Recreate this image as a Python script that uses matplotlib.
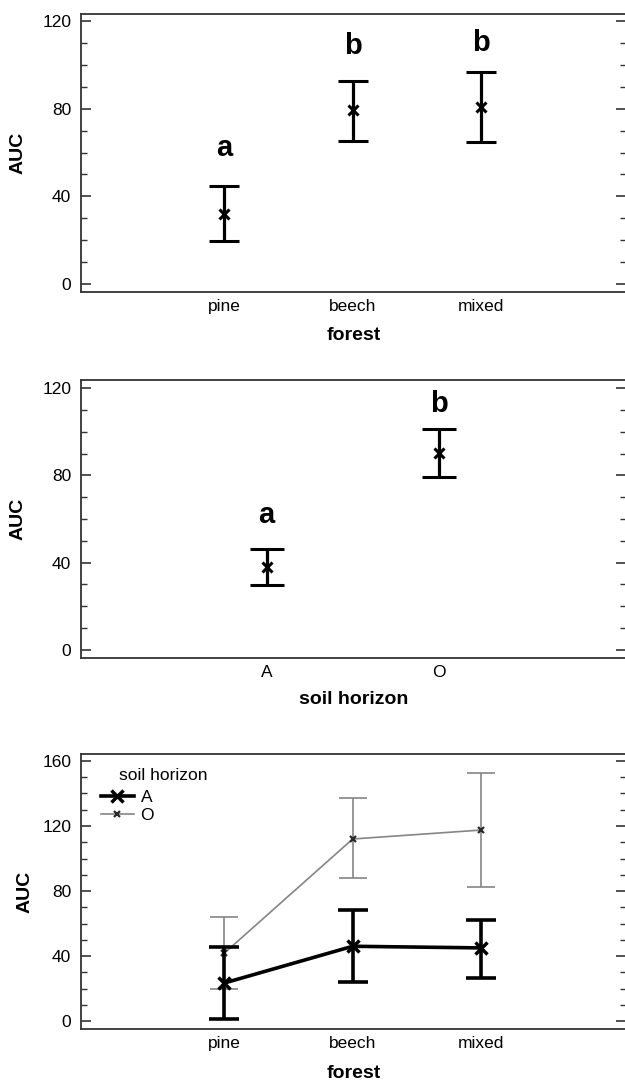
import numpy as np
import matplotlib
matplotlib.use("Agg")
import matplotlib.pyplot as plt
from matplotlib.ticker import MultipleLocator

plt.rcParams['font.family'] = ['Liberation Sans', 'DejaVu Sans']

# panel 1 : AUC by forest type
forest = ['pine', 'beech', 'mixed']
forest_auc = [32, 79.5, 81]
forest_lo = [19.7, 65.3, 64.8]
forest_hi = [44.7, 92.7, 96.8]
forest_letters = ['a', 'b', 'b']
forest_letter_y = [58.4, 105, 106.4]

# panel 2 : AUC by soil horizon
horizon = ['A', 'O']
horizon_auc = [38, 90.2]
horizon_lo = [29.8, 79.3]
horizon_hi = [46.3, 101.2]
horizon_letters = ['a', 'b']
horizon_letter_y = [58.2, 109]

# panel 3 : interaction forest x horizon
a_auc = [23.4, 46, 45]
a_lo = [1.2, 24, 26.5]
a_hi = [45.5, 68.3, 62.2]
o_auc = [41.8, 112, 117.5]
o_lo = [19.7, 88, 82.5]
o_hi = [64, 137, 152.6]

W, H = 625, 1084
SPINE = '#333333'
GREY = '#858585'


def make_axes(fig, top, bottom):
    # positions in pixels -> figure fraction
    ax = fig.add_axes([81 / W, 1 - bottom / H, 545 / W, (bottom - top) / H])
    for s in ['left', 'top', 'bottom', 'right']:
        ax.spines[s].set_color(SPINE)
        ax.spines[s].set_linewidth(1.3)
    ax.tick_params(axis='y', which='both', direction='in', left=True, right=True,
                   color=SPINE, labelsize=12.5, pad=7)
    ax.tick_params(axis='y', which='major', length=7.5, width=1.2)
    ax.tick_params(axis='y', which='minor', length=4, width=1.0)
    ax.tick_params(axis='x', length=0, labelsize=12.5, pad=5)
    return ax


def asym(mean, lo, hi):
    mean = np.array(mean)
    return [mean - np.array(lo), np.array(hi) - mean]


fig = plt.figure(figsize=(W / 100, H / 100), dpi=100)

# ---------- panel 1
ax1 = make_axes(fig, 14, 292)
x1 = np.arange(1, len(forest) + 1)
ax1.errorbar(x1, forest_auc, yerr=asym(forest_auc, forest_lo, forest_hi), fmt='x',
             color='black', ms=7, mew=2.2, elinewidth=2.3, capsize=10.5, capthick=2.3)
for xi, lab, yy in zip(x1, forest_letters, forest_letter_y):
    ax1.text(xi, yy, lab, ha='center', va='baseline', fontsize=21, fontweight='bold')
ax1.set_xlim(-0.117, 4.13)
ax1.set_ylim(-3.6, 123.2)
ax1.set_xticks(x1)
ax1.set_xticklabels(forest)
ax1.yaxis.set_major_locator(MultipleLocator(40))
ax1.yaxis.set_minor_locator(MultipleLocator(10))
ax1.set_ylabel('AUC', fontsize=14, fontweight='bold')
ax1.yaxis.set_label_coords(-0.1, 0.5)
ax1.set_xlabel('forest', fontsize=14, fontweight='bold', va='center')
ax1.xaxis.set_label_coords(0.5, -0.155)

# ---------- panel 2
ax2 = make_axes(fig, 380, 658)
x2 = np.arange(len(horizon))
ax2.errorbar(x2, horizon_auc, yerr=asym(horizon_auc, horizon_lo, horizon_hi), fmt='x',
             color='black', ms=7, mew=2.2, elinewidth=2.3, capsize=12, capthick=2.3)
for xi, lab, yy in zip(x2, horizon_letters, horizon_letter_y):
    ax2.text(xi, yy, lab, ha='center', va='baseline', fontsize=21, fontweight='bold')
ax2.set_xlim(-1.08, 2.09)
ax2.set_ylim(-3.7, 123.7)
ax2.set_xticks(x2)
ax2.set_xticklabels(horizon)
ax2.yaxis.set_major_locator(MultipleLocator(40))
ax2.yaxis.set_minor_locator(MultipleLocator(10))
ax2.set_ylabel('AUC', fontsize=14, fontweight='bold')
ax2.yaxis.set_label_coords(-0.1, 0.5)
ax2.set_xlabel('soil horizon', fontsize=14, fontweight='bold', va='center')
ax2.xaxis.set_label_coords(0.5, -0.151)

# ---------- panel 3
ax3 = make_axes(fig, 754, 1029)
x3 = np.arange(1, len(forest) + 1)
ax3.errorbar(x3, o_auc, yerr=asym(o_auc, o_lo, o_hi), fmt='none',
             ecolor=GREY, elinewidth=1.2, capsize=10, capthick=1.2)
lo_line, = ax3.plot(x3, o_auc, color=GREY, lw=1.2, marker='x', ms=5,
                    mew=1.6, mec='#2a2a2a', label='O')
ax3.errorbar(x3, a_auc, yerr=asym(a_auc, a_lo, a_hi), fmt='none',
             ecolor='black', elinewidth=2.6, capsize=11, capthick=2.6)
la_line, = ax3.plot(x3, a_auc, color='black', lw=2.6, marker='x', ms=8,
                    mew=2.5, label='A')
ax3.set_xlim(-0.117, 4.13)
ax3.set_ylim(-4.9, 164.3)
ax3.set_xticks(x3)
ax3.set_xticklabels(forest)
ax3.yaxis.set_major_locator(MultipleLocator(40))
ax3.yaxis.set_minor_locator(MultipleLocator(10))
ax3.set_ylabel('AUC', fontsize=14, fontweight='bold')
ax3.yaxis.set_label_coords(-0.088, 0.5)
ax3.set_xlabel('forest', fontsize=14, fontweight='bold', va='center')
ax3.xaxis.set_label_coords(0.5, -0.16)

ax3.text(0.07, 0.9236, 'soil horizon', transform=ax3.transAxes,
         ha='left', va='center', fontsize=12.5)
ax3.legend(handles=[la_line, lo_line], loc='upper left',
           bbox_to_anchor=(0.036, 0.871), frameon=False, fontsize=12.5,
           borderpad=0, borderaxespad=0, handlelength=1.9, handletextpad=0.4,
           labelspacing=0.2)

fig.savefig('out.png', dpi=100)
